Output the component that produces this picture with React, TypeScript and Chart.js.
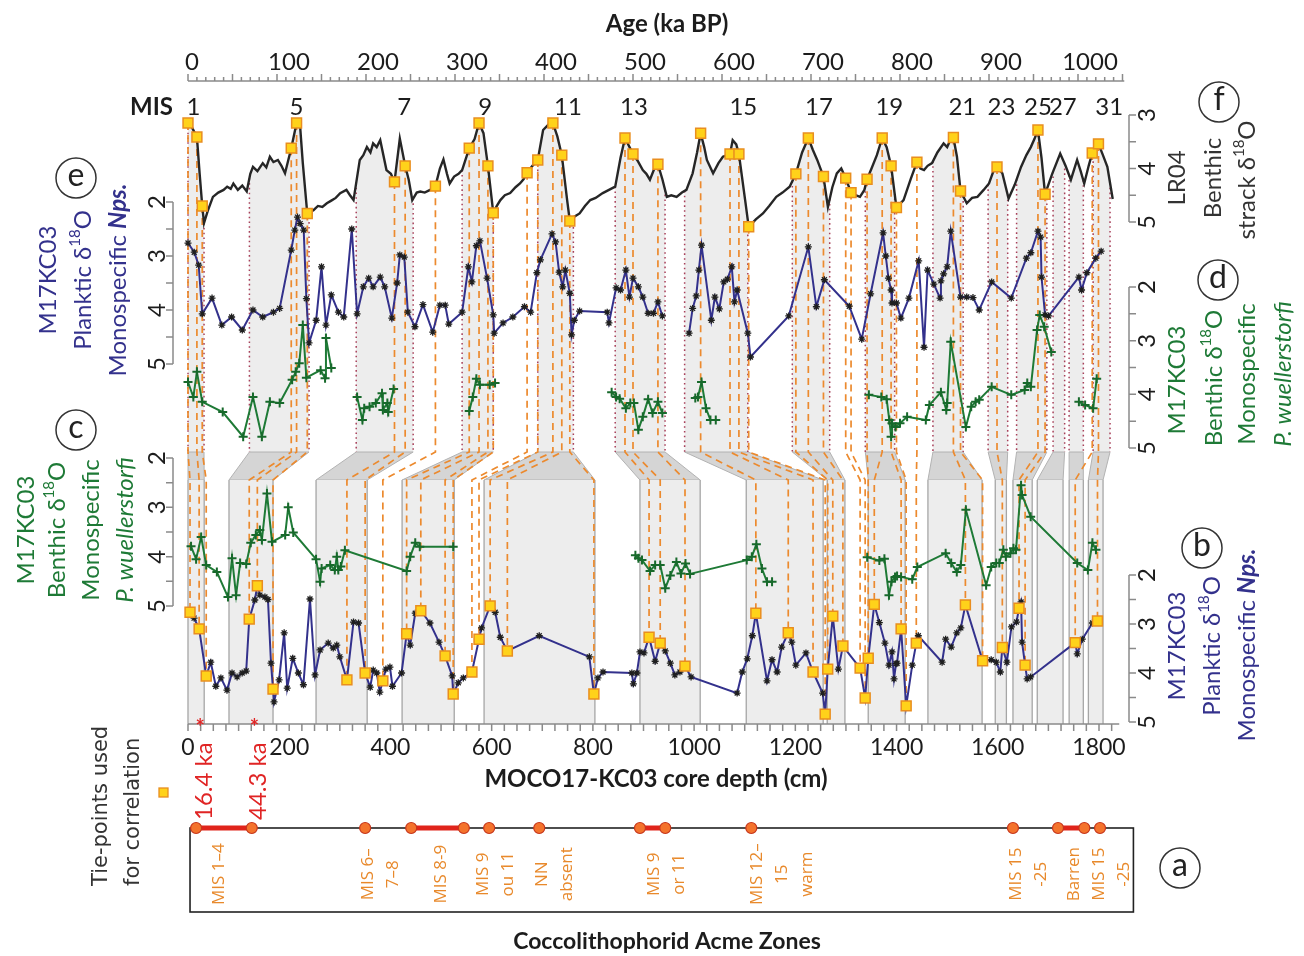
import React, { useEffect, useRef } from 'react';
import { Chart, registerables } from 'chart.js';
Chart.register(...registerables);

const W = 1304, H = 956;

// ---------------- DATA ----------------
const ageTicks = [0, 100, 200, 300, 400, 500, 600, 700, 800, 900, 1000];
const depthTicks = [0, 200, 400, 600, 800, 1000, 1200, 1400, 1600, 1800];
const misAge = [6, 122, 243, 334, 427, 501, 624, 709, 788, 870, 914, 955, 983, 1035];
const misLabel = ['1', '5', '7', '9', '11', '13', '15', '17', '19', '21', '23', '25', '27', '31'];

// LR04 benthic stack (age ka, d18O)
const lr04 = [
  [0,3.15],[4,3.22],[10,3.41],[13,4.08],[16,4.70],[18,5.02],[22,4.8],[28,4.53],[34,4.45],[40,4.4],[44,4.34],[48,4.38],[51,4.28],[56,4.4],[61,4.32],[66,4.43],[70,4.1],[73,3.97],[78,4.05],[84,3.90],[88,3.98],[92,3.78],[96,3.88],[101,3.84],[105,3.95],[109,4.09],[116,3.62],[122,3.15],[126,3.22],[129,3.90],[134,4.84],[141,4.78],[146,4.7],[151,4.72],[156,4.65],[161,4.6],[166,4.55],[171,4.46],[178,4.40],[182,4.5],[186,4.59],[193,3.84],[197,3.75],[201,3.60],[205,3.7],[208,3.53],[212,3.6],[216,3.47],[223,4.03],[228,4.1],[232,4.25],[238,3.44],[244,3.95],[248,4.21],[252,4.59],[257,4.45],[261,4.43],[266,4.45],[272,4.40],[278,4.33],[283,4.0],[287,3.83],[291,4.1],[294,4.28],[299,4.15],[304,4.1],[308,4.03],[316,3.62],[322,3.45],[327,3.15],[332,3.34],[337,3.95],[343,4.83],[347,4.7],[351,4.59],[356,4.5],[362,4.46],[368,4.35],[373,4.28],[377,4.2],[381,4.08],[387,3.95],[393,3.84],[399,3.28],[405,3.18],[410,3.15],[415,3.4],[420,3.75],[426,4.59],[429,4.98],[434,4.9],[440,4.84],[446,4.7],[452,4.59],[458,4.55],[466,4.46],[473,4.4],[480,4.34],[486,3.8],[491,3.43],[500,3.73],[505,3.85],[511,4.03],[515,4.1],[519,4.21],[524,4.0],[528,3.92],[533,4.2],[538,4.53],[543,4.5],[549,4.53],[555,4.45],[560,4.40],[567,4.09],[572,3.7],[576,3.34],[580,3.6],[583,3.84],[590,4.09],[596,3.9],[601,3.78],[609,3.73],[612,3.47],[616,3.55],[619,3.73],[626,4.59],[630,5.09],[638,4.95],[646,4.84],[653,4.7],[661,4.53],[668,4.45],[676,4.34],[683,4.10],[690,3.7],[697,3.43],[702,3.65],[707,3.84],[714,4.15],[719,4.72],[724,4.35],[729,4.09],[734,4.0],[739,4.18],[745,4.45],[750,4.5],[755,4.53],[760,4.4],[763,4.20],[768,4.0],[774,3.75],[780,3.43],[785,3.6],[790,3.95],[796,4.73],[804,4.59],[812,4.2],[819,3.88],[823,4.0],[827,4.03],[831,3.95],[836,3.90],[842,3.7],[849,3.53],[853,3.6],[857,3.45],[860,3.42],[864,3.78],[868,4.42],[875,4.65],[881,4.55],[887,4.53],[894,4.4],[900,4.28],[905,4.05],[909,3.97],[915,4.09],[922,4.56],[929,4.3],[936,3.97],[942,3.75],[947,3.60],[951,3.45],[955,3.28],[959,3.8],[963,4.48],[971,4.1],[980,3.72],[986,3.95],[992,4.21],[999,3.84],[1003,4.05],[1007,4.28],[1012,3.95],[1016,3.71],[1023,3.54],[1028,3.75],[1033,3.97],[1039,4.57]
];

// (e) M17KC03 planktic d18O on age model (segments)
const planktAgeSegs = [
  [[0,2.76],[7,2.93],[12,3.17],[16,4.07],[27,3.78],[38,4.28],[49,4.13],[61,4.37],[73,4.0],[84,4.13],[96,4.04],[103,3.97],[116,2.89],[120,2.52],[123,2.28],[126,2.4],[130,2.52],[133,3.79],[136,4.61],[144,4.19],[150,3.2],[155,4.28],[161,3.72],[169,4.04],[175,4.13],[184,2.5],[190,4.07],[197,3.57],[203,3.41],[208,3.57],[216,3.39],[221,3.57],[229,4.15],[235,3.5],[238,2.98],[243,3.02],[247,4.04],[255,4.31],[264,3.9],[275,4.41],[283,3.91],[289,3.91],[293,4.26],[308,4.04],[315,3.2],[319,3.48],[324,2.81],[328,2.72],[336,3.41],[343,4.09],[344,4.43],[354,4.24],[365,4.13],[378,3.94],[385,4.04],[392,3.31],[396,3.07],[409,2.59],[413,2.74],[417,3.3],[421,3.57],[424,3.26],[429,3.69],[431,4.46],[434,4.19],[440,4.02],[471,4.04],[473,4.24],[481,3.59],[486,3.63],[492,3.26],[496,3.76],[500,3.41],[506,3.57],[511,3.76],[517,4.06],[523,4.06],[528,3.85],[533,4.11]],
  [[563,4.43],[567,3.97],[571,3.74],[574,3.26],[577,2.8],[588,4.19],[592,3.76],[597,3.98],[602,3.48],[606,3.43],[611,3.2],[614,3.85],[617,3.63],[629,4.43],[632,4.87],[675,4.11],[697,2.83],[706,3.94],[715,3.44],[743,3.93],[757,4.54],[767,3.7],[781,2.57],[784,3.0],[787,3.41],[790,3.63],[791,3.87],[796,3.87],[801,4.15],[810,3.78],[821,3.09],[827,4.69],[831,3.26],[838,3.52],[845,3.78],[846,3.46],[849,3.33],[853,3.2],[857,2.54],[868,3.76],[875,3.76],[882,3.77],[889,4.0],[903,3.48],[925,3.78],[942,3.04],[947,2.94],[955,2.54],[958,2.65],[959,3.39],[963,4.09],[967,4.11],[1001,3.39],[1004,3.63],[1010,3.31],[1020,3.04],[1026,2.91]]
];

// (d) M17KC03 benthic d18O on age model (segments)
const benthAgeSegs = [
  [[0,3.77],[6,4.05],[10,3.58],[16,4.14],[39,4.33],[62,4.79],[73,4.05],[83,4.79],[92,4.14],[103,4.16],[117,3.73],[121,3.58],[125,3.42],[129,2.71],[133,3.69],[149,3.55],[154,3.7],[155,2.95],[161,3.51]],
  [[190,4.05],[196,4.48],[198,4.26],[204,4.23],[211,4.16],[218,3.98],[219,4.29],[224,4.16],[225,4.33],[231,3.9]],
  [[316,4.31],[320,4.05],[324,3.71],[328,3.82],[339,3.82],[345,3.79]],
  [[476,3.96],[481,4.05],[485,4.08],[492,4.26],[497,4.16],[501,4.16],[506,4.66],[511,4.42],[517,4.09],[522,4.35],[528,4.14],[533,4.35]],
  [[570,4.07],[573,4.05],[577,3.77],[582,4.26],[587,4.48],[593,4.48]],
  [[765,4.01],[779,4.05],[785,4.09],[788,4.48],[790,4.79],[791,4.54],[795,4.61],[800,4.54],[808,4.42],[829,4.48],[833,4.2],[846,3.96],[852,4.29],[853,4.16],[857,3.02],[874,4.61],[880,4.23],[885,4.14],[889,4.1],[903,3.86],[925,4.01],[940,3.92],[943,3.79],[947,3.86],[954,2.8],[957,2.52],[962,2.74],[970,3.21]],
  [[1001,4.14],[1008,4.2],[1017,4.26],[1021,3.71]]
];

// (c) M17KC03 benthic d18O vs depth (segments)
const benthDepthSegs = [
  [[6,3.79],[16,4.05],[26,3.6],[36,4.17],[57,4.31],[79,4.82],[87,4.03],[95,4.78],[103,4.13],[115,4.15],[124,3.72],[134,3.56],[142,3.46],[146,3.66],[156,2.72],[166,3.7],[192,3.56],[198,3.0],[208,3.51],[253,4.05],[261,4.51],[264,4.24],[281,4.17],[290,4.27],[294,4.0],[297,4.27],[302,4.2],[310,3.87],[432,4.29],[439,4.0],[449,3.72],[458,3.8],[524,3.8]],
  [[884,3.97],[890,4.03],[897,4.07],[913,4.29],[923,4.17],[933,4.17],[943,4.64],[953,4.38],[965,4.11],[974,4.34],[983,4.14],[992,4.35],[1104,4.07],[1114,4.0],[1123,3.75],[1134,4.24],[1144,4.51],[1154,4.51]],
  [[1342,4.01],[1366,4.08],[1376,4.04],[1385,4.78],[1390,4.51],[1397,4.41],[1401,4.39],[1409,4.41],[1431,4.46],[1441,4.21],[1497,3.93],[1508,4.13],[1519,4.31],[1527,4.17],[1537,3.05],[1577,4.58],[1587,4.21],[1597,4.13],[1603,4.13],[1611,3.86],[1616,4.0],[1625,3.93],[1631,3.83],[1636,3.86],[1646,2.55],[1648,2.75],[1665,3.19],[1757,4.13],[1778,4.27],[1787,3.72],[1794,3.86]]
];

// (b) M17KC03 planktic d18O vs depth
const planktDepth = [
  [4,2.76],[12,2.88],[22,3.1],[36,4.06],[45,3.78],[55,4.27],[65,4.1],[77,4.35],[87,4.0],[97,4.08],[107,4.0],[115,3.96],[121,2.9],[132,2.51],[137,2.22],[142,2.41],[152,2.45],[158,2.5],[164,3.8],[168,4.33],[170,4.59],[180,4.14],[190,3.18],[196,4.31],[207,3.7],[218,4.0],[228,4.24],[241,2.49],[251,4.04],[261,3.53],[277,3.39],[287,3.49],[294,3.43],[300,3.67],[314,4.14],[327,2.96],[337,2.98],[350,4.0],[360,4.29],[366,3.94],[373,4.0],[379,4.39],[385,4.16],[391,3.92],[399,3.88],[404,4.27],[422,4.0],[432,3.2],[439,3.43],[449,2.78],[460,2.73],[478,2.98],[496,3.37],[508,3.65],[522,4.06],[524,4.43],[534,4.2],[544,4.1],[561,3.98],[575,3.31],[580,3.08],[597,2.63],[607,2.76],[617,3.27],[631,3.55],[694,3.24],[793,3.67],[802,4.43],[810,4.1],[820,3.98],[877,4.0],[880,4.22],[887,4.0],[893,3.57],[901,3.59],[911,3.27],[923,3.76],[933,3.39],[943,3.55],[953,3.8],[962,4.04],[972,3.98],[982,3.86],[994,4.08],[1085,4.41],[1095,3.98],[1105,3.71],[1115,3.24],[1122,2.78],[1144,4.16],[1154,3.73],[1164,3.98],[1173,3.47],[1186,3.18],[1193,3.37],[1201,3.84],[1221,3.59],[1235,3.98],[1254,4.41],[1259,4.84],[1264,3.92],[1274,2.84],[1285,3.92],[1294,3.45],[1328,3.9],[1338,4.51],[1344,3.7],[1356,2.6],[1366,2.97],[1377,3.39],[1385,3.84],[1391,3.57],[1395,4.12],[1399,3.81],[1401,3.8],[1409,3.1],[1419,4.67],[1431,3.84],[1439,3.39],[1443,3.24],[1490,3.78],[1497,3.31],[1508,3.47],[1519,3.18],[1527,3.08],[1536,2.61],[1570,3.75],[1587,3.73],[1597,3.78],[1605,3.98],[1609,3.48],[1618,3.78],[1627,3.06],[1637,2.96],[1642,2.68],[1646,2.55],[1648,3.37],[1654,3.84],[1658,4.12],[1665,4.08],[1753,3.38],[1757,3.61],[1767,3.31],[1787,2.98],[1797,2.94]
];

// Tie-points (age on LR04 <-> depth in core)
const tieAge = [0,10,16,116,122,134,232,244,278,316,327,337,343,381,393,410,420,429,491,500,528,576,609,619,630,683,697,714,739,745,763,780,790,796,819,860,868,909,955,963,1016,1023];
const tieLR04 = [3.15,3.41,4.70,3.62,3.15,4.84,4.25,3.95,4.33,3.62,3.15,3.95,4.83,4.08,3.84,3.15,3.75,4.98,3.43,3.73,3.92,3.34,3.73,3.73,5.09,4.10,3.43,4.15,4.18,4.45,4.20,3.43,3.95,4.73,3.88,3.42,4.42,3.97,3.28,4.48,3.71,3.54];
const tieDepth = [4,22,36,121,137,168,314,350,385,432,460,508,524,561,575,597,631,802,911,933,982,1122,1186,1235,1259,1264,1274,1294,1328,1338,1344,1356,1409,1419,1439,1536,1570,1609,1642,1654,1753,1797];
const tieB = [2.76,3.10,4.06,2.90,2.22,4.33,4.14,4.00,4.16,3.20,2.73,3.65,4.43,3.98,3.31,2.63,3.55,4.43,3.27,3.39,3.86,2.78,3.18,3.98,4.84,3.92,2.84,3.45,3.90,4.51,3.70,2.60,3.10,4.67,3.39,2.61,3.75,3.48,2.68,3.84,3.38,2.94];

// Correlated intervals (grey bands)
const bandAge = [[0,18],[69,136],[189,253],[308,343],[393,433],[480,536],[558,629],[679,721],[761,794],[837,871],[899,921],[931,965],[972,985],[990,1006],[1017,1036]];
const bandDepth = [[0,32],[81,168],[253,354],[423,526],[585,804],[893,1012],[1103,1255],[1263,1298],[1344,1417],[1462,1569],[1595,1617],[1630,1668],[1678,1729],[1741,1769],[1779,1808]];

// 14C dates
const c14Depth = [24, 131];
const c14Label = ['16.4 ka', '44.3 ka'];

// (a) Coccolithophorid acme zones
const acmeDepth = [16,126,350,441,545,595,694,893,943,1113,1630,1719,1771,1802];
const acmeSegments = [[16,126],[441,545],[893,943],[1719,1771]];
const acmeBoxDepth = [4, 1868];
const acmeLabelDepth = [61, 356, 500, 583, 700, 921, 1124, 1636, 1751];
const acmeLabelLines = [
  ['MIS 1–4'], ['MIS 6–', '7–8'], ['MIS 8-9'], ['MIS 9', 'ou 11'], ['NN', 'absent'],
  ['MIS 9', 'or 11'], ['MIS 12–', '15', 'warm'], ['MIS 15', '-25'], ['Barren', 'MIS 15', '-25']
];

// ---------------- LAYOUT ----------------
const LAYOUT = {
  ageAxisY: 81, depthAxisY: 724, ageBandBottom: 452, depthBandTop: 480,
  leftAxisX: 173, rightAxisX: 1129, leftLabelX: 157, rightLabelX: 1147,
  ageLabelY: 62, ageLabelShift: 12, misY: 107, depthLabelY: 748,
};

function fit(v0: number, p0: number, v1: number, p1: number, size: number) {
  const k = (p1 - p0) / (v1 - v0);
  return { min: v0 - p0 / k, max: v0 + (size - p0) / k };
}

const NAVY = '#33318C';
const GREEN = '#1E7A36';
const ORANGE = '#EC8A2E';

function lrAt(a: number) {
  for (let i = 1; i < lr04.length; i++) {
    if (a <= lr04[i][0]) {
      const [a0, v0] = lr04[i - 1];
      const [a1, v1] = lr04[i];
      return v0 + ((v1 - v0) * (a - a0)) / (a1 - a0);
    }
  }
  return lr04[lr04.length - 1][1];
}

type Seg = { t: string; f: string; dy?: number };
function drawRich(ctx: any, segs: Seg[], x: number, y: number, color: string, rot = 0, align = 'center') {
  ctx.save();
  ctx.translate(x, y);
  ctx.rotate(rot);
  ctx.fillStyle = color;
  ctx.textBaseline = 'middle';
  ctx.textAlign = 'left';
  let w = 0;
  for (const s of segs) { ctx.font = s.f; w += ctx.measureText(s.t).width; }
  let cx = align === 'center' ? -w / 2 : align === 'right' ? -w : 0;
  for (const s of segs) {
    ctx.font = s.f;
    ctx.fillText(s.t, cx, s.dy || 0);
    cx += ctx.measureText(s.t).width;
  }
  ctx.restore();
}
function txt(ctx: any, t: string, x: number, y: number, f: string, color: string, rot = 0, align = 'center') {
  drawRich(ctx, [{ t, f }], x, y, color, rot, align);
}
function circ(ctx: any, x: number, y: number, letter: string) {
  ctx.save();
  ctx.beginPath();
  ctx.arc(x, y, 20, 0, Math.PI * 2);
  ctx.strokeStyle = '#333';
  ctx.lineWidth = 1.5;
  ctx.stroke();
  ctx.restore();
  txt(ctx, letter, x, y - 2, '32px Lato', '#222');
}
const d18 = (f: string, fs: string, pre: string): Seg[] => [
  { t: pre + 'δ', f }, { t: '18', f: fs, dy: -8 }, { t: 'O', f },
];

const ROT = -Math.PI / 2;

const figurePlugin = {
  id: 'figure',
  beforeDatasetsDraw(chart: any) {
    const ctx = chart.ctx;
    const s = chart.scales;
    const xA = s.xAge, xD = s.xDepth, yLR = s.yLR, yB = s.yB, yAc = s.yAcme;
    const L = LAYOUT;
    ctx.save();
    bandAge.forEach((ba, i) => {
      const bd = bandDepth[i];
      const xa1 = xA.getPixelForValue(ba[0]), xa2 = xA.getPixelForValue(ba[1]);
      const xd1 = xD.getPixelForValue(bd[0]), xd2 = xD.getPixelForValue(bd[1]);
      // age-domain grey under LR04
      ctx.save();
      ctx.beginPath();
      ctx.rect(xa1, 0, xa2 - xa1, L.ageBandBottom);
      ctx.clip();
      ctx.beginPath();
      lr04.forEach(([a, v], j) => {
        const x = xA.getPixelForValue(a), y = yLR.getPixelForValue(v);
        if (j) ctx.lineTo(x, y); else ctx.moveTo(x, y);
      });
      ctx.lineTo(xA.getPixelForValue(lr04[lr04.length - 1][0]), L.ageBandBottom);
      ctx.lineTo(xA.getPixelForValue(lr04[0][0]), L.ageBandBottom);
      ctx.closePath();
      ctx.fillStyle = '#ededed';
      ctx.fill();
      ctx.restore();
      // trapezoid link
      ctx.beginPath();
      ctx.moveTo(xa1, L.ageBandBottom);
      ctx.lineTo(xa2, L.ageBandBottom);
      ctx.lineTo(xd2, L.depthBandTop);
      ctx.lineTo(xd1, L.depthBandTop);
      ctx.closePath();
      ctx.fillStyle = '#d5d5d5';
      ctx.fill();
      ctx.strokeStyle = '#b2b2b2';
      ctx.lineWidth = 1;
      ctx.stroke();
      // depth-domain rect
      ctx.fillStyle = '#ededed';
      ctx.fillRect(xd1, L.depthBandTop, xd2 - xd1, L.depthAxisY - L.depthBandTop);
      ctx.strokeStyle = '#a6a6a6';
      ctx.lineWidth = 1.3;
      ctx.beginPath();
      ctx.moveTo(xd1, L.depthBandTop); ctx.lineTo(xd1, L.depthAxisY);
      ctx.moveTo(xd2, L.depthBandTop); ctx.lineTo(xd2, L.depthAxisY);
      ctx.stroke();
      // dotted band edges (age domain)
      ctx.save();
      ctx.setLineDash([1.6, 3.2]);
      ctx.strokeStyle = '#A8405A';
      ctx.lineWidth = 1.5;
      for (const a of ba) {
        const x = xA.getPixelForValue(a);
        ctx.beginPath();
        ctx.moveTo(x, yLR.getPixelForValue(lrAt(a)));
        ctx.lineTo(x, L.ageBandBottom);
        ctx.stroke();
      }
      ctx.restore();
    });
    // tie-point dashed connectors
    ctx.save();
    ctx.setLineDash([7, 5]);
    ctx.strokeStyle = ORANGE;
    ctx.lineWidth = 1.7;
    tieAge.forEach((a, i) => {
      const xa = xA.getPixelForValue(a);
      const xd = xD.getPixelForValue(tieDepth[i]);
      ctx.beginPath();
      ctx.moveTo(xa, yLR.getPixelForValue(tieLR04[i]));
      ctx.lineTo(xa, L.ageBandBottom);
      ctx.lineTo(xd, L.depthBandTop);
      ctx.lineTo(xd, yB.getPixelForValue(tieB[i]));
      ctx.stroke();
    });
    ctx.restore();
    // acme box
    const bx1 = xD.getPixelForValue(acmeBoxDepth[0]), bx2 = xD.getPixelForValue(acmeBoxDepth[1]);
    const by1 = yAc.getPixelForValue(0), by2 = yAc.getPixelForValue(1);
    ctx.strokeStyle = '#222';
    ctx.lineWidth = 1.6;
    ctx.strokeRect(bx1, by1, bx2 - bx1, by2 - by1);
    ctx.restore();
  },
  afterDatasetsDraw(chart: any) {
    const ctx = chart.ctx;
    const s = chart.scales;
    const xA = s.xAge, xD = s.xDepth, yAc = s.yAcme;
    const L = LAYOUT;
    const num = '24px Lato';
    const dark = '#1c1c1c';
    ctx.save();
    ctx.strokeStyle = '#8a8a8a';
    ctx.lineWidth = 1.5;
    // top age axis
    ctx.beginPath();
    ctx.moveTo(xA.getPixelForValue(0), L.ageAxisY);
    ctx.lineTo(xA.getPixelForValue(1052), L.ageAxisY);
    for (let a = 0; a <= 1050; a += 10) {
      const x = xA.getPixelForValue(a);
      ctx.moveTo(x, L.ageAxisY);
      ctx.lineTo(x, L.ageAxisY - (a % 50 === 0 ? 7 : 4));
    }
    ctx.stroke();
    ageTicks.forEach((a) => {
      txt(ctx, String(a), xA.getPixelForValue(a) + (a === 0 ? 4 : L.ageLabelShift), L.ageLabelY, num, dark);
    });
    txt(ctx, 'Age (ka BP)', 667, 24, 'bold 24px Lato', dark);
    // MIS row
    txt(ctx, 'MIS', 173, L.misY, 'bold 24px Lato', dark, 0, 'right');
    misAge.forEach((a, i) => txt(ctx, misLabel[i], xA.getPixelForValue(a), L.misY, num, dark));
    // bottom depth axis
    ctx.beginPath();
    ctx.moveTo(xD.getPixelForValue(0), L.depthAxisY);
    ctx.lineTo(xD.getPixelForValue(1840), L.depthAxisY);
    for (let d = 0; d <= 1840; d += 25) {
      const x = xD.getPixelForValue(d);
      ctx.moveTo(x, L.depthAxisY);
      ctx.lineTo(x, L.depthAxisY + 7);
    }
    ctx.stroke();
    depthTicks.forEach((d) => txt(ctx, String(d), xD.getPixelForValue(d), L.depthLabelY, '23px Lato', dark));
    txt(ctx, 'MOCO17-KC03 core depth (cm)', 656, 779, 'bold 24px Lato', dark);
    // vertical axes
    const axes = [
      { id: 'yLR', side: 'right', from: 3, to: 5 },
      { id: 'yE', side: 'left', from: 2, to: 5 },
      { id: 'yD', side: 'right', from: 2, to: 5 },
      { id: 'yC', side: 'left', from: 2, to: 5 },
      { id: 'yB', side: 'right', from: 2, to: 5 },
    ];
    axes.forEach((ax) => {
      const sc = s[ax.id];
      const x = ax.side === 'left' ? L.leftAxisX : L.rightAxisX;
      const lx = ax.side === 'left' ? L.leftLabelX : L.rightLabelX;
      const dir = ax.side === 'left' ? -1 : 1;
      ctx.strokeStyle = '#8a8a8a';
      ctx.lineWidth = 1.5;
      ctx.beginPath();
      ctx.moveTo(x, sc.getPixelForValue(ax.from));
      ctx.lineTo(x, sc.getPixelForValue(ax.to));
      for (let v = ax.from; v <= ax.to + 1e-9; v += 0.5) {
        const y = sc.getPixelForValue(v);
        ctx.moveTo(x, y);
        ctx.lineTo(x + dir * 7, y);
      }
      ctx.stroke();
      for (let v = ax.from; v <= ax.to; v += 1) {
        txt(ctx, String(v), lx, sc.getPixelForValue(v), num, dark, ROT);
      }
    });
    // panel titles
    const F = '24px Lato', FS = '15px Lato';
    // (e)
    txt(ctx, 'M17KC03', 48, 280, F, NAVY, ROT);
    drawRich(ctx, d18(F, FS, 'Planktic '), 83, 280, NAVY, ROT);
    drawRich(ctx, [{ t: 'Monospecific ', f: F }, { t: 'Nps.', f: 'italic bold 24px Lato' }], 118, 280, NAVY, ROT);
    circ(ctx, 76, 178, 'e');
    // (c)
    txt(ctx, 'M17KC03', 26, 530, F, GREEN, ROT);
    drawRich(ctx, d18(F, FS, 'Benthic '), 57, 530, GREEN, ROT);
    txt(ctx, 'Monospecific', 91, 530, F, GREEN, ROT);
    txt(ctx, 'P. wuellerstorfi', 125, 530, 'italic 24px Lato', GREEN, ROT);
    circ(ctx, 76, 430, 'c');
    // (f)
    txt(ctx, 'LR04', 1177, 178, F, '#333', ROT);
    txt(ctx, 'Benthic', 1213, 178, F, '#333', ROT);
    drawRich(ctx, d18(F, FS, 'strack '), 1247, 180, '#333', ROT);
    circ(ctx, 1219, 102, 'f');
    // (d)
    txt(ctx, 'M17KC03', 1177, 380, F, GREEN, ROT);
    drawRich(ctx, d18(F, FS, 'Benthic '), 1214, 378, GREEN, ROT);
    txt(ctx, 'Monospecific', 1247, 374, F, GREEN, ROT);
    txt(ctx, 'P. wuellerstorfi', 1283, 374, 'italic 24px Lato', GREEN, ROT);
    circ(ctx, 1218, 280, 'd');
    // (b)
    txt(ctx, 'M17KC03', 1177, 646, F, NAVY, ROT);
    drawRich(ctx, d18(F, FS, 'Planktic '), 1212, 646, NAVY, ROT);
    drawRich(ctx, [{ t: 'Monospecific ', f: F }, { t: 'Nps.', f: 'italic bold 24px Lato' }], 1247, 645, NAVY, ROT);
    circ(ctx, 1202, 548, 'b');
    // (a)
    circ(ctx, 1180, 868, 'a');
    txt(ctx, 'Coccolithophorid Acme Zones', 667, 942, 'bold 23px Lato', dark);
    // tie-point legend
    txt(ctx, 'Tie-points used', 102, 886, '21px "DejaVu Sans"', '#333', ROT, 'left');
    txt(ctx, 'for correlation', 134, 886, '21px "DejaVu Sans"', '#333', ROT, 'left');
    ctx.fillStyle = '#FFD21A';
    ctx.strokeStyle = '#E98E1F';
    ctx.lineWidth = 1.3;
    ctx.fillRect(159, 788, 9, 9);
    ctx.strokeRect(159, 788, 9, 9);
    // 14C dates
    c14Depth.forEach((d, i) => {
      const x = xD.getPixelForValue(d);
      txt(ctx, '*', x, L.depthAxisY + 4, 'bold 22px Lato', '#E02424');
      txt(ctx, c14Label[i], x + 4, 820, '24px Lato', '#E02424', ROT, 'left');
    });
    // acme labels
    const yMid = yAc.getPixelForValue(0.55);
    acmeLabelDepth.forEach((d, i) => {
      const x0 = xD.getPixelForValue(d);
      acmeLabelLines[i].forEach((line, j) => {
        txt(ctx, line, x0 + j * 25, yMid, '17px "Open Sans"', '#E8892B', ROT);
      });
    });
    ctx.restore();
  },
};

const pts = (arr: number[][]) => arr.map(([x, y]) => ({ x, y }));

export default function App() {
  const ref = useRef<HTMLCanvasElement>(null);
  useEffect(() => {
    document.body.style.margin = '0';
    const canvas = ref.current!;
    const datasets: any[] = [];
    datasets.push({
      data: tieAge.map((a, i) => ({ x: a, y: tieLR04[i] })), xAxisID: 'xAge', yAxisID: 'yLR',
      showLine: false, pointStyle: 'rect', pointRadius: 7, pointBackgroundColor: '#FFD21A',
      pointBorderColor: '#E98E1F', pointBorderWidth: 1.5, order: 0,
    });
    datasets.push({
      data: tieDepth.map((d, i) => ({ x: d, y: tieB[i] })), xAxisID: 'xDepth', yAxisID: 'yB',
      showLine: false, pointStyle: 'rect', pointRadius: 7, pointBackgroundColor: '#FFD21A',
      pointBorderColor: '#E98E1F', pointBorderWidth: 1.5, order: 0,
    });
    datasets.push({
      data: acmeDepth.map((d) => ({ x: d, y: 0 })), xAxisID: 'xDepth', yAxisID: 'yAcme',
      showLine: false, pointStyle: 'circle', pointRadius: 5.5, pointBackgroundColor: '#F4732C',
      pointBorderColor: '#C6361C', pointBorderWidth: 1.2, order: 0,
    });
    acmeSegments.forEach((seg) => datasets.push({
      data: seg.map((d) => ({ x: d, y: 0 })), xAxisID: 'xDepth', yAxisID: 'yAcme',
      borderColor: '#E0241B', borderWidth: 5, pointRadius: 0, order: 1,
    }));
    datasets.push({
      data: pts(lr04), xAxisID: 'xAge', yAxisID: 'yLR', borderColor: '#262626', borderWidth: 2.4,
      pointRadius: 0, tension: 0, order: 3,
    });
    planktAgeSegs.forEach((seg) => datasets.push({
      data: pts(seg), xAxisID: 'xAge', yAxisID: 'yE', borderColor: NAVY, borderWidth: 2,
      pointStyle: 'star', pointRadius: 3.5, pointBorderColor: '#1f1f1f', pointBorderWidth: 1.3,
      pointBackgroundColor: '#1f1f1f', order: 2,
    }));
    benthAgeSegs.forEach((seg) => datasets.push({
      data: pts(seg), xAxisID: 'xAge', yAxisID: 'yD', borderColor: GREEN, borderWidth: 2,
      pointStyle: 'cross', pointRadius: 4.5, pointBorderColor: '#17692B', pointBorderWidth: 2, order: 2,
    }));
    benthDepthSegs.forEach((seg) => datasets.push({
      data: pts(seg), xAxisID: 'xDepth', yAxisID: 'yC', borderColor: GREEN, borderWidth: 2,
      pointStyle: 'cross', pointRadius: 4.5, pointBorderColor: '#17692B', pointBorderWidth: 2, order: 2,
    }));
    datasets.push({
      data: pts(planktDepth), xAxisID: 'xDepth', yAxisID: 'yB', borderColor: NAVY, borderWidth: 2,
      pointStyle: 'star', pointRadius: 3.5, pointBorderColor: '#1f1f1f', pointBorderWidth: 1.3,
      pointBackgroundColor: '#1f1f1f', order: 2,
    });

    const hx = (m: any) => ({ type: 'linear', axis: 'x', display: false, bounds: 'data', grace: 0, ...m });
    const vy = (m: any) => ({ type: 'linear', axis: 'y', display: false, bounds: 'data', grace: 0, reverse: true, ...m });

    const chart = new Chart(canvas, {
      type: 'line',
      data: { datasets },
      options: {
        animation: false,
        responsive: false,
        devicePixelRatio: 1,
        events: [],
        layout: { padding: 0, autoPadding: false },
        plugins: { legend: { display: false }, tooltip: { enabled: false } },
        elements: { line: { tension: 0 } },
        scales: {
          x: { display: false },
          y: { display: false },
          xAge: hx(fit(0, 188, 1000, 1078, W)),
          xDepth: hx(fit(0, 188, 1800, 1099, W)),
          yLR: vy(fit(3, 115, 5, 222, H)),
          yE: vy(fit(2, 202, 5, 364, H)),
          yD: vy(fit(2, 287, 5, 448, H)),
          yC: vy(fit(2, 458, 5, 606, H)),
          yB: vy(fit(2, 575, 5, 722, H)),
          yAcme: vy(fit(0, 828, 1, 912, H)),
        },
      } as any,
      plugins: [figurePlugin as any],
    });
    return () => chart.destroy();
  }, []);
  return (
    <div style={{ width: W, height: H, background: '#fff' }}>
      <canvas ref={ref} width={W} height={H} style={{ display: 'block', width: W, height: H }} />
    </div>
  );
}
